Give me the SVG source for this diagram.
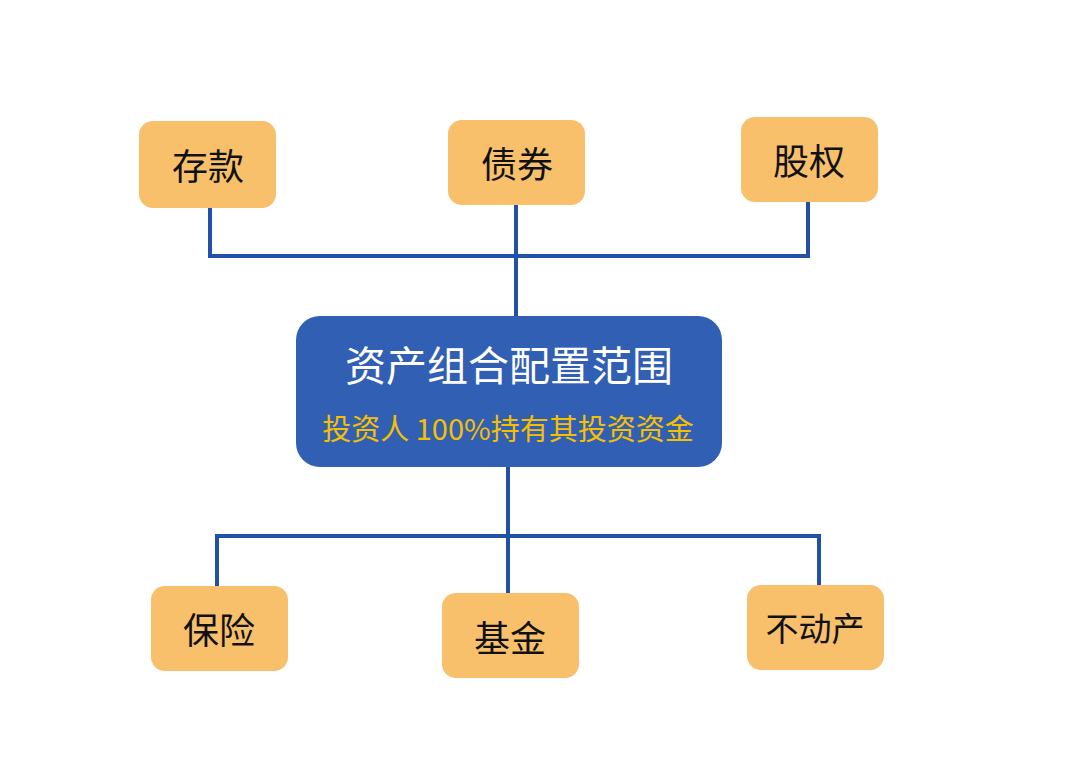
<svg xmlns="http://www.w3.org/2000/svg" width="1080" height="767" viewBox="0 0 1080 767">
<style>
.leaf rect{fill:#f8c06a}
.leaf text{font-family:"Noto Sans CJK SC",sans-serif;font-size:36px;fill:#111;text-anchor:middle;dominant-baseline:central}
.conn{stroke:#2150a8;stroke-width:4;fill:none}
</style>
<rect width="1080" height="767" fill="#fff"/>
<g id="connectors">
<path class="conn" d="M210 208V256M808 202V256M208 256H810M516 205V316"/>
<path class="conn" d="M508 467V593M215 536H821M217 534V586M819 534V585"/>
</g>
<g id="center">
<rect x="296" y="316" width="426" height="151" rx="24" fill="#315fb3"/>
<text x="509" y="363" font-family="Noto Sans CJK SC,sans-serif" font-size="41" fill="#fff" text-anchor="middle" dominant-baseline="central">资产组合配置范围</text>
<text x="508" y="427" font-family="Noto Sans CJK SC,sans-serif" font-size="29" fill="#f5c000" text-anchor="middle" dominant-baseline="central">投资人 100%持有其投资资金</text>
</g>
<g id="n-deposit" class="leaf"><rect x="139" y="121" width="137" height="87" rx="14"/><text x="208" y="164">存款</text></g>
<g id="n-bond" class="leaf"><rect x="448" y="120" width="137" height="85" rx="14"/><text x="517" y="162">债券</text></g>
<g id="n-equity" class="leaf"><rect x="741" y="117" width="137" height="85" rx="14"/><text x="809" y="159">股权</text></g>
<g id="n-insurance" class="leaf"><rect x="151" y="586" width="137" height="85" rx="14"/><text x="219" y="628">保险</text></g>
<g id="n-fund" class="leaf"><rect x="442" y="593" width="137" height="85" rx="14"/><text x="510" y="636">基金</text></g>
<g id="n-realestate" class="leaf"><rect x="747" y="585" width="137" height="85" rx="14"/><text x="815" y="627" style="font-size:33px">不动产</text></g>
</svg>
